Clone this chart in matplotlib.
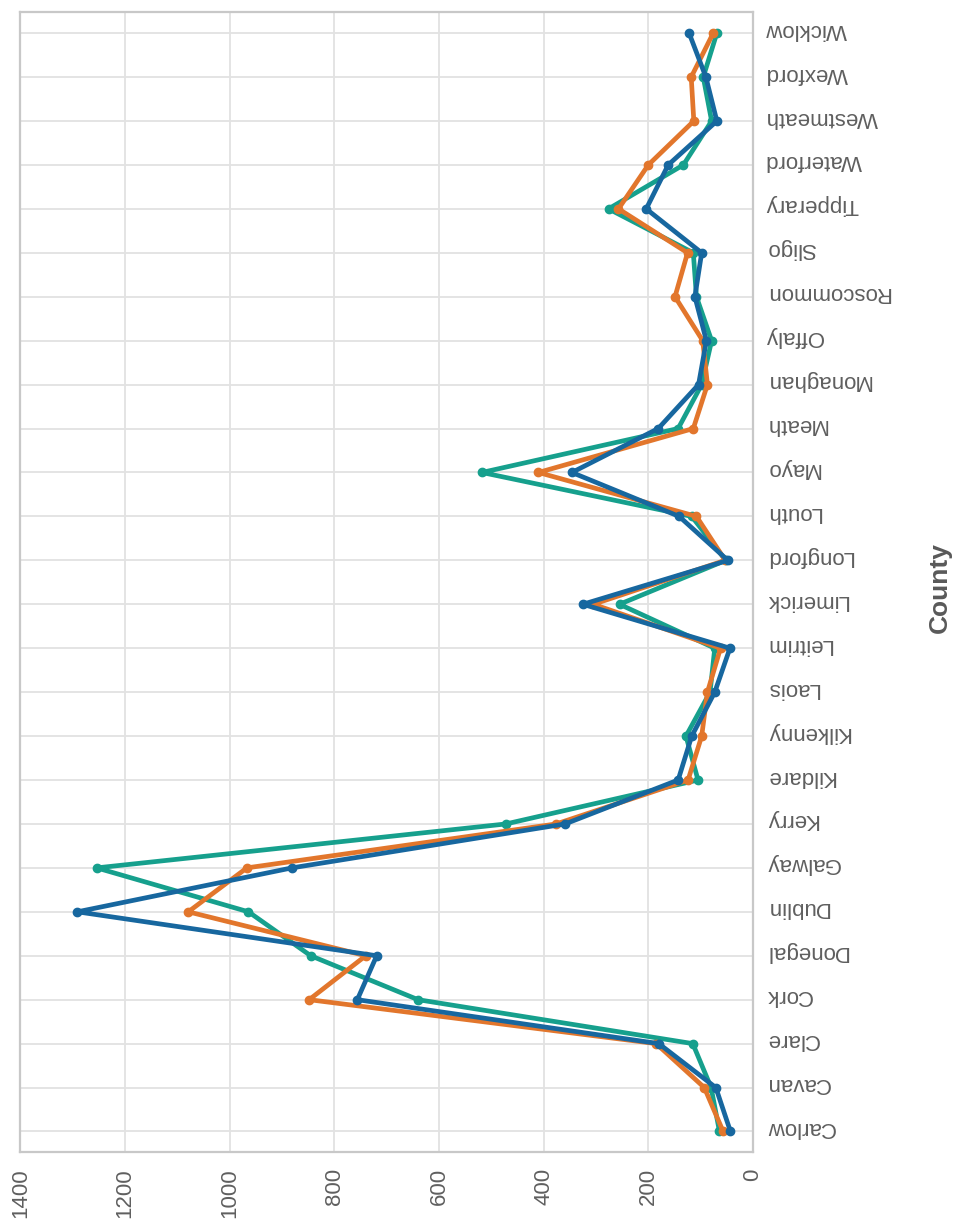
import matplotlib.pyplot as plt
from matplotlib.transforms import ScaledTranslation

# DATOS

counties = ["Carlow", "Cavan", "Clare", "Cork", "Donegal", "Dublin", "Galway",
            "Kerry", "Kildare", "Kilkenny", "Laois", "Leitrim", "Limerick",
            "Longford", "Louth", "Mayo", "Meath", "Monaghan", "Offaly",
            "Roscommon", "Sligo", "Tipperary", "Waterford", "Westmeath",
            "Wexford", "Wicklow"]

teal_vals = [64, 80, 115, 640, 845, 964, 1254, 472, 105, 128, 82, 73, 255,
             52, 117, 518, 143, 98, 79, 108, 114, 276, 133, 79, 95, 69]

orange_vals = [57, 93, 185, 848, 740, 1079, 967, 376, 124, 98, 87, 62, 305,
               53, 108, 410, 114, 87, 96, 149, 125, 257, 200, 113, 118, 76]

blue_vals = [43, 71, 180, 756, 719, 1291, 881, 359, 143, 117, 73, 44, 325,
             48, 141, 346, 181, 104, 89, 111, 98, 204, 162, 69, 90, 122]

x_ticks = [0, 200, 400, 600, 800, 1000, 1200, 1400]

colores = ["#16a08d", "#e2762c", "#17679f"]

plt.rcParams["font.family"] = ["Liberation Sans", "DejaVu Sans"]

fig = plt.figure(figsize=(9.57, 12.29), dpi=100)
ax = fig.add_axes([0.0212, 0.0629, 0.7656, 0.9273])

pos = list(range(len(counties)))

for valores, color in zip([teal_vals, orange_vals, blue_vals], colores):
    ax.plot(valores, pos, color=color, linewidth=3.4,
            marker="o", markersize=6, solid_capstyle="round",
            solid_joinstyle="round")

ax.set_xlim(1400, 0)
ax.set_ylim(-0.46, len(counties) - 1 + 0.48)

ax.set_xticks(x_ticks)
ax.set_xticklabels([str(v) for v in x_ticks], rotation=90)
ax.set_yticks(pos)
ax.set_yticklabels(counties, rotation=180, va="center")

ax.yaxis.tick_right()
ax.tick_params(axis="both", length=0, labelsize=16, labelcolor="#5f5f5f")
ax.tick_params(axis="x", pad=12)
ax.tick_params(axis="y", pad=9)

# subir un poco las etiquetas de condados
desplazamiento = ScaledTranslation(0, 4 / 100, fig.dpi_scale_trans)
for etiqueta in ax.get_yticklabels():
    etiqueta.set_transform(etiqueta.get_transform() + desplazamiento)

ax.grid(True, color="#e2e2e2", linewidth=1.3)
ax.set_axisbelow(True)

for lado in ["left", "right", "top", "bottom"]:
    ax.spines[lado].set_color("#c8c8c8")
    ax.spines[lado].set_linewidth(1.6)

fig.text(940 / 957, 1 - 588 / 1229, "County", rotation=90,
         ha="center", va="center", fontsize=19, fontweight="bold",
         color="#595959")

plt.savefig("out.png")
plt.close()
